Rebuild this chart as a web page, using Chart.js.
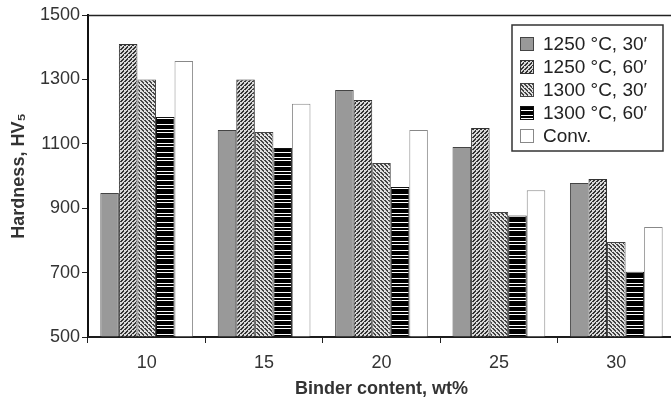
<!DOCTYPE html>
<html>
<head>
<meta charset="utf-8">
<script src="https://cdn.jsdelivr.net/npm/chart.js@4.4.1/dist/chart.umd.min.js"></script>
<style>
  html, body { margin: 0; padding: 0; background: #fff; overflow: hidden; }
  #wrap { width: 680px; height: 400px; position: relative; }
</style>
</head>
<body>
<div id="wrap"><canvas id="chartDureza"></canvas></div>
<script>
// Datos
const categorias = ['10', '15', '20', '25', '30'];
const serie1250_30 = [947, 1143, 1267, 1090, 978];
const serie1250_60 = [1410, 1300, 1236, 1149, 991];
const serie1300_30 = [1300, 1137, 1040, 888, 795];
const serie1300_60 = [1183, 1087, 966, 877, 703];
const serieConv = [1357, 1224, 1143, 956, 842];
const etiquetas = ['1250 °C, 30′', '1250 °C, 60′', '1300 °C, 30′', '1300 °C, 60′', 'Conv.'];
const ticksY = [500, 700, 900, 1100, 1300, 1500];

const ctx = document.getElementById('chartDureza').getContext('2d');

// Patrones de relleno (tramas)
function trama(tam, dibujar) {
  const c = document.createElement('canvas');
  c.width = tam; c.height = tam;
  const g = c.getContext('2d');
  dibujar(g, tam);
  return ctx.createPattern(c, 'repeat');
}

const tramaDiagDer = trama(4, (g, s) => {
  g.fillStyle = '#d8d8d8'; g.fillRect(0, 0, s, s);
  g.fillStyle = '#333';
  for (let i = 0; i < s; i++) { g.fillRect((s - 1 - i + 2) % s, i, 2, 1); }
});
const tramaDiagIzq = trama(4, (g, s) => {
  g.fillStyle = '#e0e0e0'; g.fillRect(0, 0, s, s);
  g.fillStyle = '#444';
  for (let i = 0; i < s; i++) { g.fillRect(i % s, i, 2, 1); }
});
const tramaHoriz = (() => {
  const c = document.createElement('canvas');
  c.width = 4; c.height = 14;
  const g = c.getContext('2d');
  g.fillStyle = '#000'; g.fillRect(0, 0, 4, 14);
  g.fillStyle = '#fff';
  g.fillRect(0, 3, 4, 1); g.fillRect(0, 6, 4, 1); g.fillRect(0, 12, 4, 1);
  return ctx.createPattern(c, 'repeat');
})();

const rellenos = ['#999999', tramaDiagDer, tramaDiagIzq, tramaHoriz, '#ffffff'];
const bordes = ['#444', '#333', '#444', '#111', '#888'];
const valores = [serie1250_30, serie1250_60, serie1300_30, serie1300_60, serieConv];

// Leyenda con marco dibujada a mano + línea superior del área
const extras = {
  id: 'extras',
  afterDraw(chart) {
    const c = chart.ctx;
    const a = chart.chartArea;
    c.save();
    c.strokeStyle = '#222';
    c.lineWidth = 1.5;
    c.beginPath();
    c.moveTo(a.left, a.top + 0.5);
    c.lineTo(a.right, a.top + 0.5);
    c.moveTo(a.left, a.bottom);
    c.lineTo(a.right, a.bottom);
    c.stroke();

    const x0 = 512, y0 = 25, w = 151, h = 126;
    c.fillStyle = '#fff';
    c.fillRect(x0, y0, w, h);
    c.strokeStyle = '#333';
    c.lineWidth = 1.5;
    c.strokeRect(x0, y0, w, h);
    c.font = '19px "Liberation Sans", Arial, sans-serif';
    c.textBaseline = 'middle';
    etiquetas.forEach((t, i) => {
      const yc = 44 + i * 23;
      c.fillStyle = rellenos[i];
      c.fillRect(520, yc - 7, 14, 14);
      c.strokeStyle = bordes[i];
      c.lineWidth = 1;
      c.strokeRect(520.5, yc - 6.5, 13, 13);
      c.fillStyle = '#222';
      c.fillText(t, 543, yc + 1);
    });
    c.restore();
  }
};

new Chart(ctx, {
  type: 'bar',
  data: {
    labels: categorias,
    datasets: etiquetas.map((et, i) => ({
      label: et,
      data: valores[i],
      backgroundColor: rellenos[i],
      borderColor: bordes[i],
      borderWidth: 1,
      categoryPercentage: 0.79,
      barPercentage: 1.0
    }))
  },
  options: {
    responsive: true,
    maintainAspectRatio: false,
    animation: false,
    layout: { padding: { top: 15, right: 5, left: 0, bottom: 0 } },
    plugins: { legend: { display: false }, tooltip: { enabled: false } },
    scales: {
      x: {
        grid: { drawOnChartArea: false, drawTicks: true, tickLength: 6, color: '#222', offset: true },
        border: { color: '#111', width: 2 },
        ticks: { color: '#333', font: { size: 18, family: '"Liberation Sans", Arial, sans-serif' }, padding: 9 },
        title: {
          display: true,
          text: 'Binder content, wt%',
          color: '#333',
          font: { size: 18, weight: 'bold', family: '"Liberation Sans", Arial, sans-serif' },
          padding: { top: 0, bottom: 0 }
        },
        afterFit: (s) => { s.height = 63; }
      },
      y: {
        min: 500,
        max: 1500,
        afterBuildTicks: (s) => { s.ticks = ticksY.map(v => ({ value: v })); },
        grid: { drawOnChartArea: false, drawTicks: true, tickLength: 6, color: '#222' },
        border: { color: '#111', width: 2 },
        ticks: {
          color: '#333',
          font: { size: 18, family: '"Liberation Sans", Arial, sans-serif' },
          padding: 2,
          callback: (v) => String(v)
        },
        title: {
          display: true,
          text: 'Hardness, HV₅',
          color: '#333',
          font: { size: 18, weight: 'bold', family: '"Liberation Sans", Arial, sans-serif' },
          padding: { top: 8, bottom: 0 }
        },
        afterFit: (s) => { s.width = 88; }
      }
    }
  },
  plugins: [extras]
});
</script>
</body>
</html>
